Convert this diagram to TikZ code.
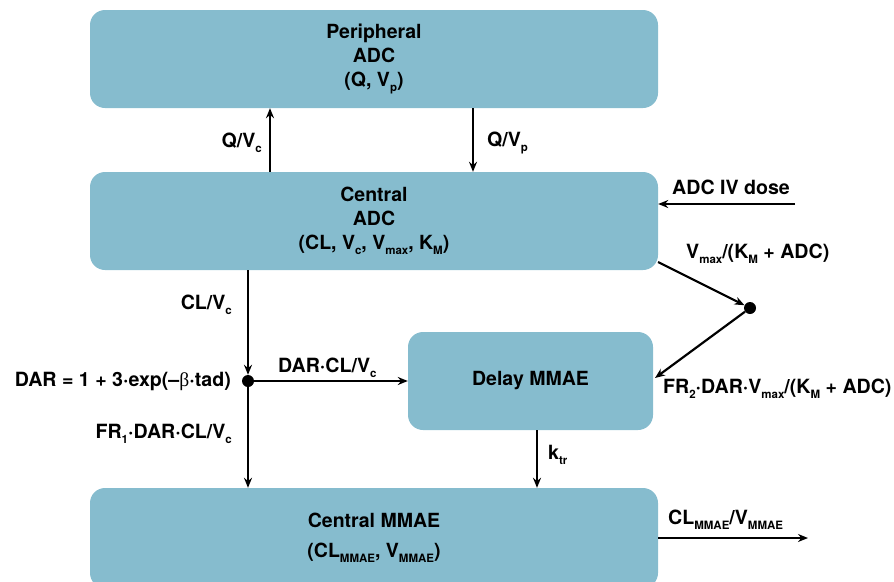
\documentclass[tikz,border=0pt]{standalone}
\usepackage{fontspec}
\setmainfont{TeX Gyre Heros}
\newfontfamily\symfont{Liberation Serif}
\usepackage{tikz}
\usepackage{amsmath}
\usetikzlibrary{arrows.meta}

\definecolor{boxblue}{RGB}{134,188,206}
\newcommand{\lo}[1]{\raisebox{-0.5ex}{\fontsize{11.5}{12}\selectfont #1}}

\tikzset{
    comp/.style={fill=boxblue, rounded corners=15pt, minimum width=568pt, minimum height=98pt,
        align=center, font=\bfseries\fontsize{19.5}{24}\selectfont},
    flow/.style={line width=2.2pt, -{Stealth[length=10pt,width=8pt]}},
    lbl/.style={font=\bfseries\fontsize{19.6}{22}\selectfont, inner sep=0pt},
    junction/.style={circle, fill=black, inner sep=0pt, minimum size=12pt}
}

\begin{document}
\begin{tikzpicture}[x=1pt, y=-1pt]
        \useasboundingbox (0,0) rectangle (894,581);
        % compartments
            \node[comp] (periph) at (374,59) {Peripheral\\ADC\\(Q, V\lo{p})};
            \node[comp] (central) at (374,221) {Central\\ADC\\(CL, V\lo{c}, V\lo{max}, K\lo{M})};
            \node[comp, minimum width=245pt] (delay) at (530.5,381) {Delay MMAE};
            \node[comp, minimum height=100pt] (mmae) at (374,538) {Central MMAE\\[6pt](CL\lo{MMAE}, V\lo{MMAE})};
        % junctions and free ends
            \node[junction] (dar) at (248,381) {};
            \node[junction] (mm) at (750,308) {};
            \coordinate (qc) at (270,0);
            \coordinate (qp) at (473,0);
            \coordinate (dose) at (795,204);
            \coordinate (ktr) at (537,0);
            \coordinate (out) at (808,538);
        % This draws the flows.
            \draw[flow, line width=1.7pt] (central.north -| qc) -- (periph.south -| qc);
            \draw[flow, line width=1.7pt] (periph.south -| qp) -- (central.north -| qp);
            \draw[flow, line width=2.6pt] (dose) -- (central.east |- dose);
            \draw[flow, line width=1.7pt] (central.south -| dar) -- (dar);
            \draw[flow, line width=1.7pt] (dar) -- (mmae.north -| dar);
            \draw[flow, line width=2.6pt] (dar) -- (delay.west |- dar);
            \draw[flow] (658,262) -- (mm);
            \draw[flow] (mm) -- (655,378);
            \draw[flow, line width=1.7pt] (delay.south -| ktr) -- (mmae.north -| ktr);
            \draw[flow, line width=2.6pt] (mmae.east |- out) -- (out);
        % Below nodes are the labels.
            \node[lbl, anchor=east] at (262,143) {Q/V\lo{c}};
            \node[lbl, anchor=west] at (487,143) {Q/V\lo{p}};
            \node[lbl, anchor=west] at (672,187) {ADC IV dose};
            \node[lbl, anchor=west] at (686,254) {V\lo{max}/(K\lo{M} + ADC)};
            \node[lbl, anchor=east] at (232,305) {CL/V\lo{c}};
            \node[lbl, anchor=west] at (278,368) {DAR\textperiodcentered CL/V\lo{c}};
            \node[lbl, anchor=east] at (231,381) {DAR = 1 + 3\textperiodcentered exp(\textendash{\symfont\mdseries β}\textperiodcentered tad)};
            \node[lbl, anchor=east] at (232,434) {FR\lo{1}\textperiodcentered DAR\textperiodcentered CL/V\lo{c}};
            \node[lbl, anchor=west] at (663,389) {FR\lo{2}\textperiodcentered DAR\textperiodcentered V\lo{max}/(K\lo{M} + ADC)};
            \node[lbl, anchor=west] at (548,455) {k\lo{tr}};
            \node[lbl, anchor=west] at (668,520) {CL\lo{MMAE}/V\lo{MMAE}};
    \end{tikzpicture}
\end{document}
